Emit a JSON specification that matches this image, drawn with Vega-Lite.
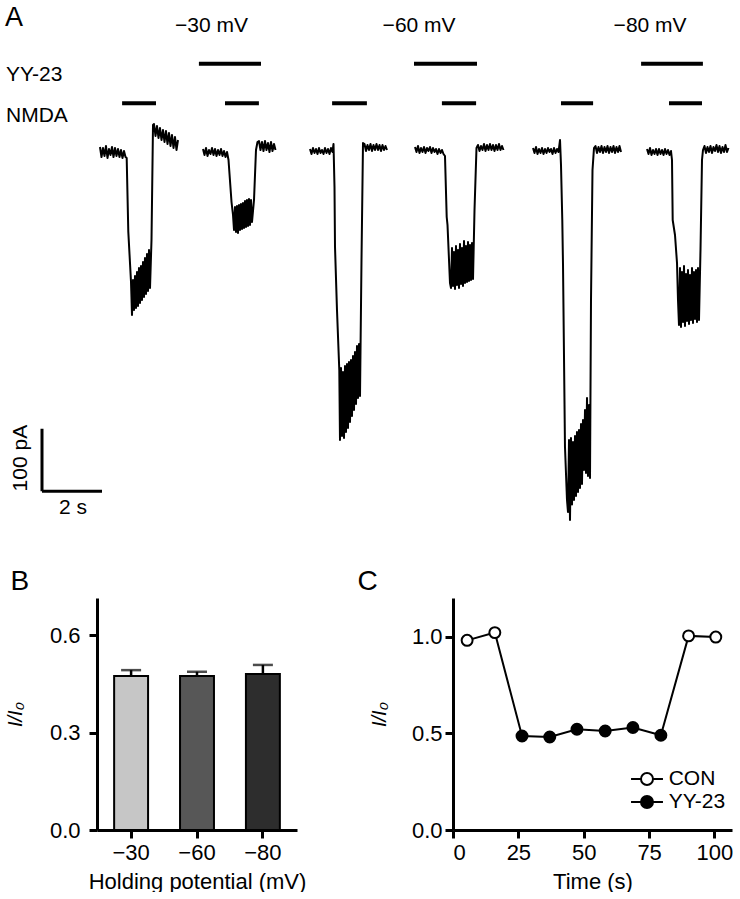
{
"$schema": "https://vega.github.io/schema/vega-lite/v6.json",
"padding": {"left": 5, "top": 0, "right": 0, "bottom": 0},
"background": "white",
"config": {
 "font": "Liberation Sans",
 "view": {"stroke": null},
 "axis": {"grid": false, "domainColor": "black", "domainWidth": 3, "tickColor": "black", "tickWidth": 3, "tickSize": 8, "labelColor": "black", "labelFontSize": 22, "titleColor": "black", "titleFontSize": 22, "titleFontWeight": "normal"},
 "axisY": {"titleFontStyle": "italic", "titleFontSize": 20},
 "title": {"fontWeight": "normal", "color": "black"}
},
"spacing": 20,
"vconcat": [
 {
  "width": 643, "height": 548,
  "layer": [
   {
    "data": {"values": [
{"trace":"c30","t":3.333,"pA":4.8},{"trace":"c30","t":3.383,"pA":-11.2},{"trace":"c30","t":3.433,"pA":3.2},{"trace":"c30","t":3.483,"pA":-9.6},{"trace":"c30","t":3.533,"pA":6.4},{"trace":"c30","t":3.583,"pA":-12.8},{"trace":"c30","t":3.633,"pA":1.6},{"trace":"c30","t":3.683,"pA":-8},{"trace":"c30","t":3.733,"pA":4.8},{"trace":"c30","t":3.783,"pA":-11.2},{"trace":"c30","t":3.833,"pA":3.2},{"trace":"c30","t":3.883,"pA":-9.6},{"trace":"c30","t":3.933,"pA":1.6},{"trace":"c30","t":3.983,"pA":-11.2},{"trace":"c30","t":4.033,"pA":0},{"trace":"c30","t":4.083,"pA":-12.8},{"trace":"c30","t":4.133,"pA":-1.6},{"trace":"c30","t":4.183,"pA":-11.2},
{"trace":"c30","t":4.223,"pA":-12.8},{"trace":"c30","t":4.277,"pA":-131},{"trace":"c30","t":4.367,"pA":-211},
{"trace":"c30","t":4.4,"pA":-264},{"trace":"c30","t":4.433,"pA":-208},{"trace":"c30","t":4.467,"pA":-256},{"trace":"c30","t":4.5,"pA":-201.6},{"trace":"c30","t":4.533,"pA":-252.8},{"trace":"c30","t":4.567,"pA":-195.2},{"trace":"c30","t":4.6,"pA":-249.6},{"trace":"c30","t":4.633,"pA":-188.8},{"trace":"c30","t":4.667,"pA":-244.8},{"trace":"c30","t":4.7,"pA":-185.6},{"trace":"c30","t":4.733,"pA":-240},{"trace":"c30","t":4.767,"pA":-179.2},{"trace":"c30","t":4.8,"pA":-235.2},{"trace":"c30","t":4.833,"pA":-172.8},{"trace":"c30","t":4.867,"pA":-230.4},{"trace":"c30","t":4.9,"pA":-166.4},{"trace":"c30","t":4.933,"pA":-225.6},{"trace":"c30","t":4.967,"pA":-160},{"trace":"c30","t":5.0,"pA":-220.8},
{"trace":"c30","t":5.05,"pA":-144},{"trace":"c30","t":5.1,"pA":40},
{"trace":"c30","t":5.133,"pA":41.6},{"trace":"c30","t":5.183,"pA":22.4},{"trace":"c30","t":5.233,"pA":38.4},{"trace":"c30","t":5.283,"pA":19.2},{"trace":"c30","t":5.333,"pA":35.2},{"trace":"c30","t":5.383,"pA":16},{"trace":"c30","t":5.433,"pA":32},{"trace":"c30","t":5.483,"pA":12.8},{"trace":"c30","t":5.533,"pA":30.4},{"trace":"c30","t":5.583,"pA":9.6},{"trace":"c30","t":5.633,"pA":27.2},{"trace":"c30","t":5.683,"pA":6.4},{"trace":"c30","t":5.733,"pA":24},{"trace":"c30","t":5.783,"pA":3.2},{"trace":"c30","t":5.833,"pA":20.8},{"trace":"c30","t":5.883,"pA":0},{"trace":"c30","t":5.933,"pA":16},

{"trace":"y30","t":6.767,"pA":1.6},{"trace":"y30","t":6.817,"pA":-8},{"trace":"y30","t":6.867,"pA":3.2},{"trace":"y30","t":6.917,"pA":-9.6},{"trace":"y30","t":6.967,"pA":0},{"trace":"y30","t":7.017,"pA":-6.4},{"trace":"y30","t":7.067,"pA":3.2},{"trace":"y30","t":7.117,"pA":-8},{"trace":"y30","t":7.167,"pA":1.6},{"trace":"y30","t":7.217,"pA":-9.6},{"trace":"y30","t":7.267,"pA":0},{"trace":"y30","t":7.317,"pA":-8},{"trace":"y30","t":7.367,"pA":1.6},{"trace":"y30","t":7.417,"pA":-9.6},{"trace":"y30","t":7.467,"pA":-1.6},{"trace":"y30","t":7.517,"pA":-11.2},{"trace":"y30","t":7.567,"pA":-3.2},
{"trace":"y30","t":7.617,"pA":-16},{"trace":"y30","t":7.717,"pA":-83.2},{"trace":"y30","t":7.767,"pA":-104},
{"trace":"y30","t":7.8,"pA":-128},{"trace":"y30","t":7.833,"pA":-91.2},{"trace":"y30","t":7.867,"pA":-131.2},{"trace":"y30","t":7.9,"pA":-89.6},{"trace":"y30","t":7.933,"pA":-132.8},{"trace":"y30","t":7.967,"pA":-88},{"trace":"y30","t":8.0,"pA":-128},{"trace":"y30","t":8.033,"pA":-86.4},{"trace":"y30","t":8.067,"pA":-126.4},{"trace":"y30","t":8.1,"pA":-84.8},{"trace":"y30","t":8.133,"pA":-124.8},{"trace":"y30","t":8.167,"pA":-81.6},{"trace":"y30","t":8.2,"pA":-123.2},{"trace":"y30","t":8.233,"pA":-80},{"trace":"y30","t":8.267,"pA":-121.6},{"trace":"y30","t":8.3,"pA":-78.4},{"trace":"y30","t":8.333,"pA":-120},{"trace":"y30","t":8.367,"pA":-80},{"trace":"y30","t":8.4,"pA":-115.2},
{"trace":"y30","t":8.467,"pA":-80},{"trace":"y30","t":8.533,"pA":0},{"trace":"y30","t":8.583,"pA":12.8},
{"trace":"y30","t":8.633,"pA":14.4},{"trace":"y30","t":8.683,"pA":0},{"trace":"y30","t":8.733,"pA":12.8},{"trace":"y30","t":8.783,"pA":-1.6},{"trace":"y30","t":8.833,"pA":14.4},{"trace":"y30","t":8.883,"pA":0},{"trace":"y30","t":8.933,"pA":11.2},{"trace":"y30","t":8.983,"pA":-3.2},{"trace":"y30","t":9.033,"pA":12.8},{"trace":"y30","t":9.083,"pA":-1.6},{"trace":"y30","t":9.133,"pA":9.6},{"trace":"y30","t":9.183,"pA":0},

{"trace":"c60","t":10.333,"pA":1.6},{"trace":"c60","t":10.383,"pA":-6.4},{"trace":"c60","t":10.433,"pA":3.2},{"trace":"c60","t":10.483,"pA":-4.8},{"trace":"c60","t":10.533,"pA":1.6},{"trace":"c60","t":10.583,"pA":-6.4},{"trace":"c60","t":10.633,"pA":3.2},{"trace":"c60","t":10.683,"pA":-4.8},{"trace":"c60","t":10.733,"pA":0},{"trace":"c60","t":10.783,"pA":-6.4},{"trace":"c60","t":10.833,"pA":3.2},{"trace":"c60","t":10.883,"pA":-4.8},{"trace":"c60","t":10.933,"pA":1.6},{"trace":"c60","t":10.983,"pA":-6.4},{"trace":"c60","t":11.033,"pA":3.2},{"trace":"c60","t":11.083,"pA":-3.2},{"trace":"c60","t":11.117,"pA":9.6},
{"trace":"c60","t":11.15,"pA":-59.2},{"trace":"c60","t":11.167,"pA":-155.2},{"trace":"c60","t":11.233,"pA":-256},{"trace":"c60","t":11.31,"pA":-352},
{"trace":"c60","t":11.333,"pA":-464},{"trace":"c60","t":11.367,"pA":-348.8},{"trace":"c60","t":11.4,"pA":-457.6},{"trace":"c60","t":11.433,"pA":-355.2},{"trace":"c60","t":11.467,"pA":-460.8},{"trace":"c60","t":11.5,"pA":-345.6},{"trace":"c60","t":11.533,"pA":-451.2},{"trace":"c60","t":11.567,"pA":-342.4},{"trace":"c60","t":11.6,"pA":-444.8},{"trace":"c60","t":11.633,"pA":-339.2},{"trace":"c60","t":11.667,"pA":-435.2},{"trace":"c60","t":11.7,"pA":-336},{"trace":"c60","t":11.733,"pA":-425.6},{"trace":"c60","t":11.767,"pA":-329.6},{"trace":"c60","t":11.8,"pA":-416},{"trace":"c60","t":11.833,"pA":-323.2},{"trace":"c60","t":11.867,"pA":-406.4},{"trace":"c60","t":11.9,"pA":-313.6},{"trace":"c60","t":11.933,"pA":-396.8},{"trace":"c60","t":11.967,"pA":-310.4},{"trace":"c60","t":12.0,"pA":-393.6},
{"trace":"c60","t":12.05,"pA":-176},{"trace":"c60","t":12.1,"pA":11.2},
{"trace":"c60","t":12.15,"pA":9.6},{"trace":"c60","t":12.2,"pA":-1.6},{"trace":"c60","t":12.25,"pA":8},{"trace":"c60","t":12.3,"pA":0},{"trace":"c60","t":12.35,"pA":9.6},{"trace":"c60","t":12.4,"pA":-1.6},{"trace":"c60","t":12.45,"pA":8},{"trace":"c60","t":12.5,"pA":0},{"trace":"c60","t":12.55,"pA":9.6},{"trace":"c60","t":12.6,"pA":0},{"trace":"c60","t":12.65,"pA":8},{"trace":"c60","t":12.7,"pA":-1.6},{"trace":"c60","t":12.75,"pA":8},{"trace":"c60","t":12.8,"pA":0},{"trace":"c60","t":12.85,"pA":6.4},{"trace":"c60","t":12.9,"pA":0},

{"trace":"y60","t":13.833,"pA":4.8},{"trace":"y60","t":13.883,"pA":-3.2},{"trace":"y60","t":13.933,"pA":6.4},{"trace":"y60","t":13.983,"pA":-4.8},{"trace":"y60","t":14.033,"pA":3.2},{"trace":"y60","t":14.083,"pA":-3.2},{"trace":"y60","t":14.133,"pA":4.8},{"trace":"y60","t":14.183,"pA":-4.8},{"trace":"y60","t":14.233,"pA":3.2},{"trace":"y60","t":14.283,"pA":-1.6},{"trace":"y60","t":14.333,"pA":4.8},{"trace":"y60","t":14.383,"pA":-4.8},{"trace":"y60","t":14.433,"pA":3.2},{"trace":"y60","t":14.483,"pA":-3.2},{"trace":"y60","t":14.533,"pA":1.6},{"trace":"y60","t":14.583,"pA":-6.4},{"trace":"y60","t":14.633,"pA":1.6},{"trace":"y60","t":14.683,"pA":-4.8},{"trace":"y60","t":14.733,"pA":0},{"trace":"y60","t":14.783,"pA":-6.4},
{"trace":"y60","t":14.833,"pA":-9.6},{"trace":"y60","t":14.89,"pA":-107.2},{"trace":"y60","t":14.917,"pA":-120},{"trace":"y60","t":15.0,"pA":-212.8},
{"trace":"y60","t":15.033,"pA":-220.8},{"trace":"y60","t":15.067,"pA":-156.8},{"trace":"y60","t":15.1,"pA":-217.6},{"trace":"y60","t":15.133,"pA":-163.2},{"trace":"y60","t":15.167,"pA":-222.4},{"trace":"y60","t":15.2,"pA":-153.6},{"trace":"y60","t":15.233,"pA":-216},{"trace":"y60","t":15.267,"pA":-160},{"trace":"y60","t":15.3,"pA":-220.8},{"trace":"y60","t":15.333,"pA":-150.4},{"trace":"y60","t":15.367,"pA":-214.4},{"trace":"y60","t":15.4,"pA":-156.8},{"trace":"y60","t":15.433,"pA":-217.6},{"trace":"y60","t":15.467,"pA":-145.6},{"trace":"y60","t":15.5,"pA":-212.8},{"trace":"y60","t":15.533,"pA":-153.6},{"trace":"y60","t":15.567,"pA":-211.2},{"trace":"y60","t":15.6,"pA":-147.2},{"trace":"y60","t":15.633,"pA":-209.6},{"trace":"y60","t":15.667,"pA":-152},{"trace":"y60","t":15.7,"pA":-208},{"trace":"y60","t":15.733,"pA":-148.8},{"trace":"y60","t":15.767,"pA":-206.4},
{"trace":"y60","t":15.817,"pA":-96},{"trace":"y60","t":15.883,"pA":3.2},
{"trace":"y60","t":15.933,"pA":8},{"trace":"y60","t":15.983,"pA":-1.6},{"trace":"y60","t":16.033,"pA":6.4},{"trace":"y60","t":16.083,"pA":0},{"trace":"y60","t":16.133,"pA":9.6},{"trace":"y60","t":16.183,"pA":-1.6},{"trace":"y60","t":16.233,"pA":8},{"trace":"y60","t":16.283,"pA":0},{"trace":"y60","t":16.333,"pA":9.6},{"trace":"y60","t":16.383,"pA":0},{"trace":"y60","t":16.433,"pA":8},{"trace":"y60","t":16.483,"pA":-1.6},{"trace":"y60","t":16.533,"pA":8},{"trace":"y60","t":16.583,"pA":0},{"trace":"y60","t":16.633,"pA":9.6},{"trace":"y60","t":16.683,"pA":0},{"trace":"y60","t":16.733,"pA":6.4},{"trace":"y60","t":16.783,"pA":0},

{"trace":"c80","t":17.767,"pA":3.2},{"trace":"c80","t":17.817,"pA":-4.8},{"trace":"c80","t":17.867,"pA":4.8},{"trace":"c80","t":17.917,"pA":-6.4},{"trace":"c80","t":17.967,"pA":1.6},{"trace":"c80","t":18.017,"pA":-4.8},{"trace":"c80","t":18.067,"pA":3.2},{"trace":"c80","t":18.117,"pA":-6.4},{"trace":"c80","t":18.167,"pA":1.6},{"trace":"c80","t":18.217,"pA":-4.8},{"trace":"c80","t":18.267,"pA":3.2},{"trace":"c80","t":18.317,"pA":-3.2},{"trace":"c80","t":18.367,"pA":1.6},{"trace":"c80","t":18.417,"pA":-6.4},{"trace":"c80","t":18.467,"pA":3.2},{"trace":"c80","t":18.517,"pA":-4.8},{"trace":"c80","t":18.567,"pA":1.6},{"trace":"c80","t":18.617,"pA":-3.2},{"trace":"c80","t":18.667,"pA":16},
{"trace":"c80","t":18.7,"pA":-24},{"trace":"c80","t":18.743,"pA":-112},{"trace":"c80","t":18.767,"pA":-184},{"trace":"c80","t":18.833,"pA":-475.2},{"trace":"c80","t":18.9,"pA":-560},
{"trace":"c80","t":18.933,"pA":-579.2},{"trace":"c80","t":18.967,"pA":-464},{"trace":"c80","t":19.0,"pA":-592},{"trace":"c80","t":19.033,"pA":-460.8},{"trace":"c80","t":19.067,"pA":-567.2},{"trace":"c80","t":19.1,"pA":-467.2},{"trace":"c80","t":19.133,"pA":-560},{"trace":"c80","t":19.167,"pA":-457.6},{"trace":"c80","t":19.2,"pA":-553.6},{"trace":"c80","t":19.233,"pA":-451.2},{"trace":"c80","t":19.267,"pA":-547.2},{"trace":"c80","t":19.3,"pA":-448},{"trace":"c80","t":19.333,"pA":-540.8},{"trace":"c80","t":19.367,"pA":-438.4},{"trace":"c80","t":19.4,"pA":-534.4},{"trace":"c80","t":19.433,"pA":-432},{"trace":"c80","t":19.467,"pA":-512},{"trace":"c80","t":19.5,"pA":-416},{"trace":"c80","t":19.533,"pA":-516.8},{"trace":"c80","t":19.567,"pA":-396.8},{"trace":"c80","t":19.6,"pA":-521.6},{"trace":"c80","t":19.633,"pA":-408},{"trace":"c80","t":19.667,"pA":-524.8},
{"trace":"c80","t":19.7,"pA":-240},{"trace":"c80","t":19.75,"pA":-32},{"trace":"c80","t":19.8,"pA":3.2},
{"trace":"c80","t":19.85,"pA":6.4},{"trace":"c80","t":19.9,"pA":-4.8},{"trace":"c80","t":19.95,"pA":4.8},{"trace":"c80","t":20.0,"pA":-3.2},{"trace":"c80","t":20.05,"pA":6.4},{"trace":"c80","t":20.1,"pA":-4.8},{"trace":"c80","t":20.15,"pA":4.8},{"trace":"c80","t":20.2,"pA":-3.2},{"trace":"c80","t":20.25,"pA":6.4},{"trace":"c80","t":20.3,"pA":-4.8},{"trace":"c80","t":20.35,"pA":4.8},{"trace":"c80","t":20.4,"pA":-3.2},{"trace":"c80","t":20.45,"pA":6.4},{"trace":"c80","t":20.5,"pA":-4.8},{"trace":"c80","t":20.55,"pA":4.8},{"trace":"c80","t":20.6,"pA":-3.2},{"trace":"c80","t":20.65,"pA":6.4},{"trace":"c80","t":20.7,"pA":-3.2},

{"trace":"y80","t":21.567,"pA":1.6},{"trace":"y80","t":21.617,"pA":-6.4},{"trace":"y80","t":21.667,"pA":3.2},{"trace":"y80","t":21.717,"pA":-8},{"trace":"y80","t":21.767,"pA":0},{"trace":"y80","t":21.817,"pA":-6.4},{"trace":"y80","t":21.867,"pA":1.6},{"trace":"y80","t":21.917,"pA":-8},{"trace":"y80","t":21.967,"pA":1.6},{"trace":"y80","t":22.017,"pA":-6.4},{"trace":"y80","t":22.067,"pA":0},{"trace":"y80","t":22.117,"pA":-8},{"trace":"y80","t":22.167,"pA":1.6},{"trace":"y80","t":22.217,"pA":-6.4},{"trace":"y80","t":22.267,"pA":0},{"trace":"y80","t":22.317,"pA":-8},{"trace":"y80","t":22.367,"pA":-1.6},
{"trace":"y80","t":22.4,"pA":-16},{"trace":"y80","t":22.423,"pA":-112},{"trace":"y80","t":22.5,"pA":-136},{"trace":"y80","t":22.567,"pA":-180.8},{"trace":"y80","t":22.6,"pA":-240},
{"trace":"y80","t":22.633,"pA":-280},{"trace":"y80","t":22.667,"pA":-188.8},{"trace":"y80","t":22.7,"pA":-283.2},{"trace":"y80","t":22.733,"pA":-195.2},{"trace":"y80","t":22.767,"pA":-275.2},{"trace":"y80","t":22.8,"pA":-185.6},{"trace":"y80","t":22.833,"pA":-281.6},{"trace":"y80","t":22.867,"pA":-198.4},{"trace":"y80","t":22.9,"pA":-273.6},{"trace":"y80","t":22.933,"pA":-192},{"trace":"y80","t":22.967,"pA":-278.4},{"trace":"y80","t":23.0,"pA":-200},{"trace":"y80","t":23.033,"pA":-272},{"trace":"y80","t":23.067,"pA":-188.8},{"trace":"y80","t":23.1,"pA":-276.8},{"trace":"y80","t":23.133,"pA":-195.2},{"trace":"y80","t":23.167,"pA":-270.4},{"trace":"y80","t":23.2,"pA":-192},{"trace":"y80","t":23.233,"pA":-275.2},{"trace":"y80","t":23.267,"pA":-188.8},{"trace":"y80","t":23.3,"pA":-272},
{"trace":"y80","t":23.35,"pA":-160},{"trace":"y80","t":23.4,"pA":-16},{"trace":"y80","t":23.433,"pA":0},
{"trace":"y80","t":23.483,"pA":6.4},{"trace":"y80","t":23.533,"pA":-4.8},{"trace":"y80","t":23.583,"pA":4.8},{"trace":"y80","t":23.633,"pA":-3.2},{"trace":"y80","t":23.683,"pA":6.4},{"trace":"y80","t":23.733,"pA":-4.8},{"trace":"y80","t":23.783,"pA":4.8},{"trace":"y80","t":23.833,"pA":-1.6},{"trace":"y80","t":23.883,"pA":8},{"trace":"y80","t":23.933,"pA":-3.2},{"trace":"y80","t":23.983,"pA":6.4},{"trace":"y80","t":24.033,"pA":-4.8},{"trace":"y80","t":24.083,"pA":4.8},{"trace":"y80","t":24.133,"pA":-3.2},{"trace":"y80","t":24.183,"pA":8},{"trace":"y80","t":24.233,"pA":-3.2},{"trace":"y80","t":24.283,"pA":3.2}
    ]},
    "mark": {"type": "line", "color": "black", "strokeWidth": 2, "strokeJoin": "round"},
    "encoding": {
     "x": {"field": "t", "type": "quantitative", "scale": {"domain": [3.2333, 24.6667], "nice": false, "zero": false}, "axis": null},
     "y": {"field": "pA", "type": "quantitative", "scale": {"domain": [-636.8, 240], "nice": false, "zero": false}, "axis": null},
     "detail": {"field": "trace", "type": "nominal"}
    }
   },
   {
    "data": {"values": [
     {"drug": "YY-23", "start": 6.63, "end": 8.7, "level": 138},
     {"drug": "YY-23", "start": 13.8, "end": 15.9, "level": 138},
     {"drug": "YY-23", "start": 21.37, "end": 23.43, "level": 138},
     {"drug": "NMDA", "start": 4.07, "end": 5.2, "level": 75},
     {"drug": "NMDA", "start": 7.5, "end": 8.63, "level": 75},
     {"drug": "NMDA", "start": 11.07, "end": 12.23, "level": 75},
     {"drug": "NMDA", "start": 14.73, "end": 15.87, "level": 75},
     {"drug": "NMDA", "start": 18.7, "end": 19.77, "level": 75},
     {"drug": "NMDA", "start": 22.3, "end": 23.4, "level": 75}
    ]},
    "mark": {"type": "rule", "color": "black", "strokeWidth": 4},
    "encoding": {
     "x": {"field": "start", "type": "quantitative", "scale": {"domain": [3.2333, 24.6667], "nice": false, "zero": false}},
     "x2": {"field": "end"},
     "y": {"field": "level", "type": "quantitative", "scale": {"domain": [-636.8, 240], "nice": false, "zero": false}}
    }
   },
   {
    "data": {"values": [
     {"bar": "current", "x1": 1.4, "x2": 1.4, "y1": -546, "y2": -446},
     {"bar": "time", "x1": 1.4, "x2": 3.4, "y1": -546, "y2": -546}
    ]},
    "mark": {"type": "rule", "color": "black", "strokeWidth": 3},
    "encoding": {
     "x": {"field": "x1", "type": "quantitative", "scale": {"domain": [3.2333, 24.6667], "nice": false, "zero": false}},
     "x2": {"field": "x2"},
     "y": {"field": "y1", "type": "quantitative", "scale": {"domain": [-636.8, 240], "nice": false, "zero": false}},
     "y2": {"field": "y2"}
    }
   },
   {
    "data": {"values": [{"label": "A", "t": 0.1667, "pA": 211}]},
    "mark": {"type": "text", "align": "left", "baseline": "middle", "fontSize": 27, "color": "black"},
    "encoding": {
     "x": {"field": "t", "type": "quantitative", "scale": {"domain": [3.2333, 24.6667], "nice": false, "zero": false}},
     "y": {"field": "pA", "type": "quantitative", "scale": {"domain": [-636.8, 240], "nice": false, "zero": false}},
     "text": {"field": "label"}
    }
   },
   {
    "data": {"values": [
     {"label": "−30 mV", "t": 7.05, "pA": 198},
     {"label": "−60 mV", "t": 13.97, "pA": 198},
     {"label": "−80 mV", "t": 21.67, "pA": 198},
     {"label": "2 s", "t": 2.43, "pA": -573}
    ]},
    "mark": {"type": "text", "align": "center", "baseline": "middle", "fontSize": 21, "color": "black"},
    "encoding": {
     "x": {"field": "t", "type": "quantitative", "scale": {"domain": [3.2333, 24.6667], "nice": false, "zero": false}},
     "y": {"field": "pA", "type": "quantitative", "scale": {"domain": [-636.8, 240], "nice": false, "zero": false}},
     "text": {"field": "label"}
    }
   },
   {
    "data": {"values": [
     {"label": "YY-23", "t": 0.2, "pA": 120},
     {"label": "NMDA", "t": 0.2, "pA": 54.4}
    ]},
    "mark": {"type": "text", "align": "left", "baseline": "middle", "fontSize": 21, "color": "black"},
    "encoding": {
     "x": {"field": "t", "type": "quantitative", "scale": {"domain": [3.2333, 24.6667], "nice": false, "zero": false}},
     "y": {"field": "pA", "type": "quantitative", "scale": {"domain": [-636.8, 240], "nice": false, "zero": false}},
     "text": {"field": "label"}
    }
   },
   {
    "data": {"values": [{"label": "100 pA", "t": 0.7, "pA": -493}]},
    "mark": {"type": "text", "align": "center", "baseline": "middle", "fontSize": 21, "angle": 270, "color": "black"},
    "encoding": {
     "x": {"field": "t", "type": "quantitative", "scale": {"domain": [3.2333, 24.6667], "nice": false, "zero": false}},
     "y": {"field": "pA", "type": "quantitative", "scale": {"domain": [-636.8, 240], "nice": false, "zero": false}},
     "text": {"field": "label"}
    }
   }
  ]
 },
 {
  "spacing": 51,
  "resolve": {"scale": {"fill": "independent"}, "legend": {"fill": "independent"}},
  "hconcat": [
   {
    "width": 200, "height": 232,
    "title": {"text": "B", "anchor": "start", "frame": "bounds", "fontSize": 28, "offset": 2, "dx": 5},
    "data": {"values": [
     {"potential": "−30", "ratio": 0.474, "upper": 0.492},
     {"potential": "−60", "ratio": 0.474, "upper": 0.487},
     {"potential": "−80", "ratio": 0.48, "upper": 0.508}
    ]},
    "layer": [
     {
      "mark": {"type": "bar", "stroke": "black", "strokeWidth": 2},
      "encoding": {
       "x": {"field": "potential", "type": "nominal", "sort": ["−30", "−60", "−80"], "scale": {"paddingInner": 0.485, "paddingOuter": 0.26},
             "axis": {"title": "Holding potential (mV)", "labelAngle": 0, "labelPadding": 4, "titlePadding": 8}},
       "y": {"field": "ratio", "type": "quantitative", "scale": {"domain": [0, 0.714], "nice": false},
             "axis": {"title": "I/I₀", "values": [0, 0.3, 0.6], "format": ".1f", "labelPadding": 9, "titlePadding": 24}},
       "fill": {"field": "potential", "type": "nominal", "scale": {"domain": ["−30", "−60", "−80"], "range": ["#c6c6c6", "#575757", "#2d2d2d"]}, "legend": null}
      }
     },
     {
      "mark": {"type": "rule", "color": "black", "strokeWidth": 2.5},
      "encoding": {
       "x": {"field": "potential", "type": "nominal", "sort": ["−30", "−60", "−80"]},
       "y": {"field": "ratio", "type": "quantitative"},
       "y2": {"field": "upper"}
      }
     },
     {
      "mark": {"type": "tick", "color": "black", "thickness": 2.5, "size": 20},
      "encoding": {
       "x": {"field": "potential", "type": "nominal", "sort": ["−30", "−60", "−80"]},
       "y": {"field": "upper", "type": "quantitative"}
      }
     }
    ]
   },
   {
    "width": 279, "height": 232,
    "title": {"text": "C", "anchor": "start", "frame": "bounds", "fontSize": 28, "offset": 2, "dx": -12},
    "data": {"values": [
     {"time": 5.4, "ratio": 0.981, "condition": "CON"},
     {"time": 16, "ratio": 1.021, "condition": "CON"},
     {"time": 26.4, "ratio": 0.486, "condition": "YY-23"},
     {"time": 37, "ratio": 0.481, "condition": "YY-23"},
     {"time": 47.4, "ratio": 0.521, "condition": "YY-23"},
     {"time": 58.2, "ratio": 0.512, "condition": "YY-23"},
     {"time": 68.8, "ratio": 0.53, "condition": "YY-23"},
     {"time": 79.5, "ratio": 0.49, "condition": "YY-23"},
     {"time": 90.1, "ratio": 1.004, "condition": "CON"},
     {"time": 100.5, "ratio": 0.998, "condition": "CON"}
    ]},
    "layer": [
     {
      "mark": {"type": "line", "color": "black", "strokeWidth": 2},
      "encoding": {
       "x": {"field": "time", "type": "quantitative", "scale": {"domain": [0, 106.7], "nice": false},
             "axis": {"title": "Time (s)", "values": [0, 25, 50, 75, 100], "labelPadding": 4, "titlePadding": 8}},
       "y": {"field": "ratio", "type": "quantitative", "scale": {"domain": [0, 1.2], "nice": false},
             "axis": {"title": "I/I₀", "values": [0, 0.5, 1], "format": ".1f", "labelPadding": 3, "titlePadding": 22}}
      }
     },
     {
      "mark": {"type": "point", "filled": true, "stroke": "black", "strokeWidth": 2, "size": 120, "opacity": 1},
      "encoding": {
       "x": {"field": "time", "type": "quantitative"},
       "y": {"field": "ratio", "type": "quantitative"},
       "fill": {"field": "condition", "type": "nominal", "scale": {"domain": ["CON", "YY-23"], "range": ["white", "black"]},
                "legend": {"title": null, "orient": "none", "legendX": 181, "legendY": 168, "padding": 0,
                           "symbolType": "M-1.33,0H-0.5M0.5,0H1.33M-0.5,0A0.5,0.5,0,1,1,0.5,0A0.5,0.5,0,1,1,-0.5,0Z",
                           "symbolSize": 576, "symbolStrokeColor": "black", "symbolStrokeWidth": 2, "symbolOpacity": 1,
                           "labelFontSize": 21, "labelColor": "black", "labelOffset": 8.7, "rowPadding": 0}}
      }
     }
    ]
   }
  ]
 }
]
}
